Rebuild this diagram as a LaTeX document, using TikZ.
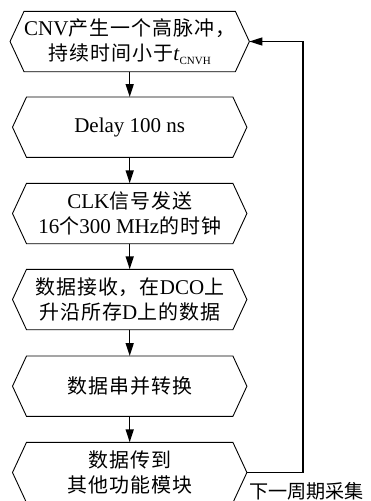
\documentclass[tikz,border=0pt]{standalone}
\usepackage{fontspec}
\setmainfont{Liberation Serif}
\newfontfamily\cjk[Scale=0.95,LetterSpace=5]{Noto Sans CJK SC}
\newfontfamily\cjklab[Scale=0.91]{Noto Sans CJK SC}
\usetikzlibrary{arrows.meta,calc}
\newcommand\zh[1]{{\cjk #1}}
\begin{document}
\begin{tikzpicture}[x=1pt,y=-1pt,
  hexbox/.style={minimum width=206pt, minimum height=60pt, inner sep=0pt, align=center,
    font=\fontsize{21}{25}\selectfont},
  hexline/.style={line width=0.9pt, line join=miter},
  arr/.style={-{Triangle[length=13pt,width=8pt]}, line width=1.4pt},
  lbl/.style={inner sep=0pt, anchor=west, font=\fontsize{21}{25}\selectfont\cjklab}]
\useasboundingbox (0,0) rectangle (371,501);
\clip (0,0) rectangle (371,501);
\node[hexbox] (b1) at (129.7,41.5) {CNV\zh{产生一个高脉冲，}\\ \zh{持续时间小于}\textit{t}\raisebox{-0.4ex}{\fontsize{11}{11}\selectfont CNVH}};
\node[hexbox] (b2) at (129.7,127.2) {Delay 100 ns};
\node[hexbox] (b3) at (129.7,213.5) {CLK\zh{信号发送}\\16\zh{个}300 MHz\zh{的时钟}};
\node[hexbox] (b4) at (129.7,299.5) {\zh{数据接收，在}DCO\zh{上}\\ \zh{升沿所存}D\zh{上的数据}};
\node[hexbox] (b5) at (129.7,386.2) {\zh{数据串并转换}};
\node[hexbox] (b6) at (129.7,472.5) {\zh{数据传到}\\ \zh{其他功能模块}};
\foreach \n in {b1,b2,b3,b4,b5,b6}
  \draw[hexline] (\n.north west) -- (\n.north east) -- ([xshift=14pt]\n.east)
    -- (\n.south east) -- (\n.south west) -- ([xshift=-14pt]\n.west) -- cycle;
\draw[arr] (b1) -- (b2);
\draw[arr] (b2) -- (b3);
\draw[arr] (b3) -- (b4);
\draw[arr] (b4) -- (b5);
\draw[arr] (b5) -- (b6);
\coordinate (t1) at ([xshift=14pt]b1.east);
\coordinate (t6) at ([xshift=14pt]b6.east);
\coordinate (r) at (303,0);
\draw[arr, line width=1.2pt] (t6) -- (t6 -| r) |- (t1);
\node[lbl] (lab) at (249,491) {下一周期采集};
\end{tikzpicture}
\end{document}
